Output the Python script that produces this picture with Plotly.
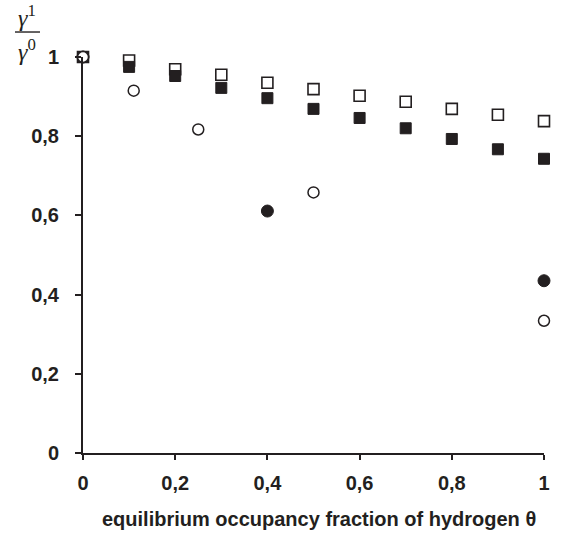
import plotly.graph_objects as go

INK = "#231f20"

theta_sq = [0, 0.1, 0.2, 0.3, 0.4, 0.5, 0.6, 0.7, 0.8, 0.9, 1.0]
open_sq = [1.0, 0.991, 0.969, 0.955, 0.935, 0.919, 0.902, 0.887, 0.869, 0.854, 0.838]
filled_sq = [1.0, 0.975, 0.952, 0.922, 0.896, 0.869, 0.846, 0.820, 0.793, 0.767, 0.743]

theta_fc = [0, 0.4, 1.0]
filled_circ = [1.0, 0.611, 0.435]

theta_oc = [0, 0.11, 0.25, 0.5, 1.0]
open_circ = [1.0, 0.915, 0.817, 0.658, 0.334]

x_ticks = [0, 0.2, 0.4, 0.6, 0.8, 1]
x_labels = ["0", "0,2", "0,4", "0,6", "0,8", "1"]
y_ticks = [0, 0.2, 0.4, 0.6, 0.8, 1]
y_labels = ["0", "0,2", "0,4", "0,6", "0,8", "1"]

fig = go.Figure()
fig.add_trace(go.Scatter(x=theta_sq, y=open_sq, mode="markers",
                         marker=dict(symbol="square", size=11, color="white",
                                     line=dict(color=INK, width=1.6))))
fig.add_trace(go.Scatter(x=theta_sq, y=filled_sq, mode="markers",
                         marker=dict(symbol="square", size=11, color=INK,
                                     line=dict(color=INK, width=1))))
fig.add_trace(go.Scatter(x=theta_fc, y=filled_circ, mode="markers",
                         marker=dict(symbol="circle", size=12, color=INK,
                                     line=dict(color=INK, width=1))))
fig.add_trace(go.Scatter(x=theta_oc, y=open_circ, mode="markers",
                         marker=dict(symbol="circle", size=11, color="white",
                                     line=dict(color=INK, width=1.5))))
fig.update_traces(cliponaxis=False)

SANS = "Liberation Sans, Arial, sans-serif"
tickfont = dict(family=SANS, size=20, color=INK, weight="bold")

fig.update_layout(
    width=581, height=536,
    margin=dict(l=83, r=37, t=57, b=83),
    paper_bgcolor="white", plot_bgcolor="white",
    showlegend=False,
    xaxis=dict(range=[0, 1], tickvals=x_ticks, ticktext=x_labels,
               showgrid=False, zeroline=False, showline=True, linecolor=INK,
               linewidth=2, ticks="outside", ticklen=5, tickwidth=2, tickcolor=INK,
               tickfont=tickfont, ticklabelstandoff=6),
    yaxis=dict(range=[0, 1], tickvals=y_ticks, ticktext=y_labels,
               showgrid=False, zeroline=False, showline=True, linecolor=INK,
               linewidth=2, ticks="outside", ticklen=6, tickwidth=2, tickcolor=INK,
               tickfont=tickfont, ticklabelstandoff=12),
)

# x-axis title
fig.add_annotation(xref="paper", yref="paper", x=0.511, y=-0.167,
                   xanchor="center", yanchor="middle", showarrow=False,
                   text="equilibrium occupancy fraction of hydrogen θ",
                   font=dict(family=SANS, size=20, color=INK, weight="bold"))

# y-axis title as a fraction gamma^1 / gamma^0
serif = dict(family="Liberation Serif, Times New Roman, serif", size=24, color=INK)
fig.add_annotation(xref="paper", yref="paper", x=-0.1215, y=1.103,
                   xanchor="center", yanchor="middle", showarrow=False,
                   text="<i>γ</i><sup>1</sup>", font=serif)
fig.add_annotation(xref="paper", yref="paper", x=-0.1215, y=1.0177,
                   xanchor="center", yanchor="middle", showarrow=False,
                   text="<i>γ</i><sup>0</sup>", font=serif)
fig.add_shape(type="line", xref="paper", yref="paper", x0=-0.1475, x1=-0.0933,
              y0=1.0631, y1=1.0631, line=dict(color=INK, width=1.4))

fig.write_html("out.html")
